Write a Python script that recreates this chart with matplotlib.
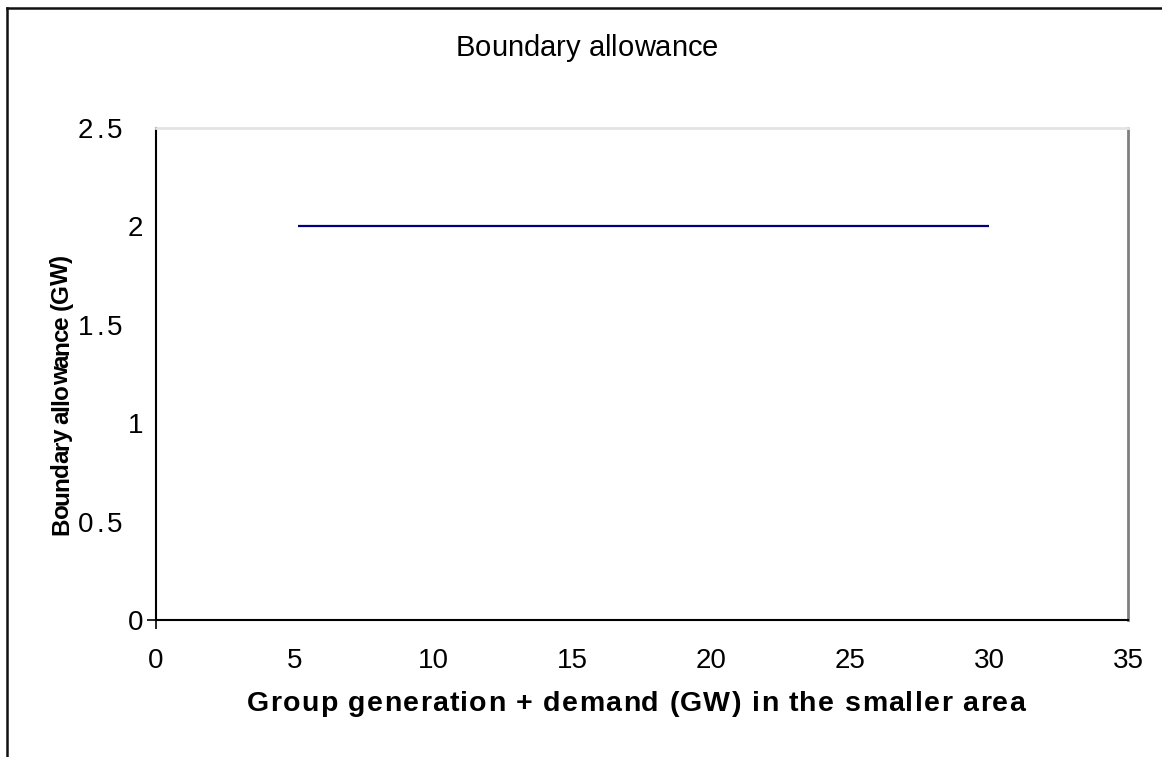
import matplotlib
matplotlib.use("Agg")
import matplotlib.pyplot as plt
import matplotlib.transforms as mtransforms
from matplotlib.lines import Line2D

# Data
x_vals = [5.1, 30.0]
y_vals = [2.0, 2.0]
x_ticks = [0, 5, 10, 15, 20, 25, 30, 35]
y_ticks = [0, 0.5, 1, 1.5, 2, 2.5]
y_tick_labels = ["0", "0.5", "1", "1.5", "2", "2.5"]
title = "Boundary allowance"
xlabel = "Group generation + demand (GW) in the smaller area"
ylabel = "Boundary allowance (GW)"

plt.rcParams['font.family'] = ['Liberation Sans', 'DejaVu Sans']

W, H = 1162, 757
fig = plt.figure(figsize=(W / 100, H / 100), dpi=100)
fig.patch.set_facecolor('white')
renderer = fig.canvas.get_renderer()
ident = mtransforms.IdentityTransform()


def text_width(s, **kw):
    t = fig.text(0, 0, s, **kw)
    w = t.get_window_extent(renderer).width
    t.remove()
    return w


def spaced_text(x0, y0, s, total=None, spacing=0.0, vertical=False, **kw):
    """Draw s starting at pixel (x0, y0) (baseline-left, display coords),
    with extra letter spacing so that the total length equals `total`."""
    bar = text_width('|', **kw)
    offs = [text_width(s[:i] + '|', **kw) - bar if i > 0 else 0.0 for i in range(len(s))]
    natural = text_width(s, **kw)
    if total is not None and len(s) > 1:
        spacing = (total - natural) / (len(s) - 1)
    for i, ch in enumerate(s):
        if ch == ' ':
            continue
        d = offs[i] + spacing * i
        if vertical:
            fig.text(x0, y0 + d, ch, transform=ident, rotation=90, rotation_mode='anchor',
                     ha='left', va='baseline', **kw)
        else:
            fig.text(x0 + d, y0, ch, transform=ident, rotation_mode='anchor',
                     ha='left', va='baseline', **kw)
    return natural + spacing * (len(s) - 1)


ax = fig.add_axes([156 / W, 1 - 620 / H, (1128 - 156) / W, (620 - 128) / H])
ax.plot(x_vals, y_vals, color='#000080', linewidth=1.6, solid_capstyle='butt')

ax.set_xlim(0, 35)
ax.set_ylim(0, 2.5)
ax.set_xticks(x_ticks)
ax.set_xticklabels([str(t) for t in x_ticks], fontsize=20)
ax.set_yticks(y_ticks)
ax.set_yticklabels([])
ax.tick_params(axis='both', which='major', length=0)
ax.tick_params(axis='x', which='major', pad=20)
ax.xaxis.remove_overlapping_locs = False
ax.yaxis.remove_overlapping_locs = False
ax.set_xticks([0], minor=True)
ax.set_yticks([0], minor=True)
ax.tick_params(which='minor', length=6.5, width=1.2, direction='out', color='black')

for s in ['left', 'bottom']:
    ax.spines[s].set_color('black')
    ax.spines[s].set_linewidth(1.5)
ax.spines['right'].set_color('#808080')
ax.spines['right'].set_linewidth(2)
ax.spines['top'].set_color('#e3e3e3')
ax.spines['top'].set_linewidth(2)

# y tick labels, Excel-like placement and spacing
tick_kw = dict(fontsize=20)
for v, lab in zip(y_ticks, y_tick_labels):
    _, py = ax.transData.transform((0, v))
    baseline = py - 10  # digits ~20px high, centred on value
    if '.' in lab:
        right = 122
        nat = text_width(lab, **tick_kw)
        tot = nat + 2.7 * (len(lab) - 1)
        spaced_text(right - tot, baseline, lab, total=tot, **tick_kw)
    else:
        right = 143
        w = text_width(lab, **tick_kw)
        spaced_text(right - w, baseline, lab, **tick_kw)

# title
title_kw = dict(fontsize=21)
tw = text_width(title, **title_kw)
spaced_text(587 - tw / 2, H - 56, title, **title_kw)

# x label (bold, letter-spaced)
xl_kw = dict(fontsize=20.5, fontweight='bold')
spaced_text(247, H - 711, xlabel, total=778, **xl_kw)

# y label (bold, condensed)
yl_kw = dict(fontsize=17.5, fontweight='bold')
spaced_text(68, H - 535, ylabel, total=280, vertical=True, **yl_kw)

# outer border (top and left)
fig.add_artist(Line2D([7 / W, 1], [1 - 7.5 / H, 1 - 7.5 / H], color='#111111', linewidth=1.8,
                      transform=fig.transFigure))
fig.add_artist(Line2D([7 / W, 7 / W], [0, 1 - 7.5 / H], color='#111111', linewidth=1.8,
                      transform=fig.transFigure))

fig.savefig('out.png', dpi=100)
